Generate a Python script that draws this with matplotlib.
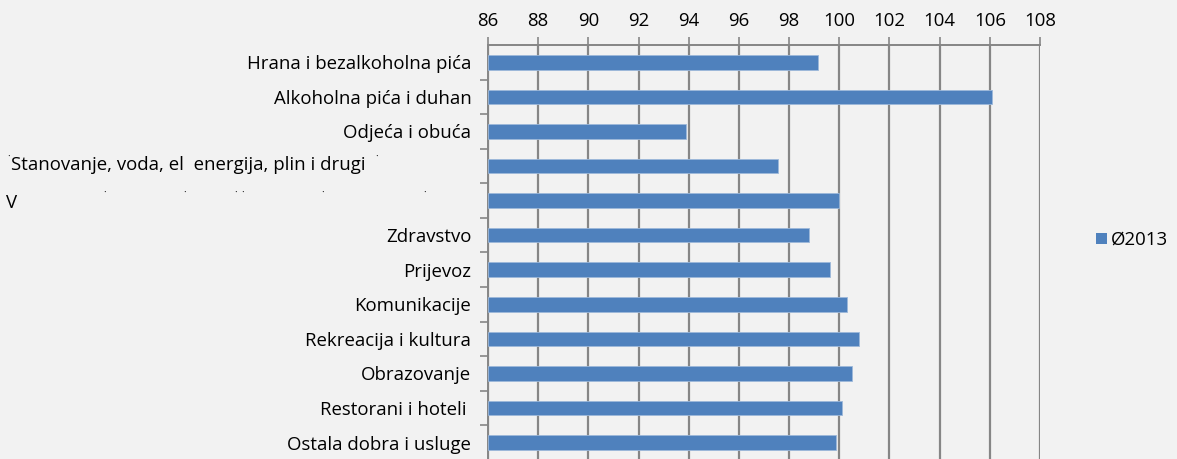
import matplotlib

matplotlib.use("Agg")
import matplotlib.pyplot as plt
from matplotlib.patches import Patch

categories = [
    "Hrana i bezalkoholna pića",
    "Alkoholna pića i duhan",
    "Odjeća i obuća",
    "Stanovanje, voda, el  energija, plin i drugi",
    "V",
    "Zdravstvo",
    "Prijevoz",
    "Komunikacije",
    "Rekreacija i kultura",
    "Obrazovanje",
    "Restorani i hoteli ",
    "Ostala dobra i usluge",
]
values = [99.15, 106.1, 93.9, 97.55, 100.0, 98.8, 99.65, 100.3, 100.8, 100.5, 100.1, 99.85]
series_name = "Ø2013"
x_ticks = list(range(86, 110, 2))

bar_color = "#4F81BD"
grid_color = "#868686"
bg = "#F2F2F2"
fs = 13.4

plt.rcParams["font.family"] = ["Open Sans", "DejaVu Sans"]

fig = plt.figure(figsize=(11.77, 4.59), dpi=100, facecolor=bg)
ax = fig.add_axes([0.4146, -0.002, 0.469, 0.904])
ax.set_facecolor(bg)

# soft inner shadow along the plot edges
W = 1040 - 488
for k in range(8):
    a = 0.05 * (8 - k) / 8
    ax.axvspan(k / W, (k + 1) / W, color="black", alpha=a, lw=0, zorder=0,
               transform=ax.transAxes)
    ax.axvspan(1 - (k + 1) / W, 1 - k / W, color="black", alpha=a, lw=0, zorder=0,
               transform=ax.transAxes)

pos = list(range(len(categories)))
ax.barh(pos, [v - 86 for v in values], left=86, height=0.42, color=bar_color,
        edgecolor="#9DB8DA", linewidth=0.6, zorder=3)

ax.set_xlim(86, 108)
ax.set_ylim(len(categories) - 0.5, -0.5)
ax.xaxis.tick_top()
ax.set_xticks(x_ticks)
ax.set_xticklabels([str(t) for t in x_ticks], fontsize=fs)
ax.tick_params(axis="x", direction="out", length=6, width=1.2, color=grid_color, pad=5)
ax.grid(axis="x", color=grid_color, linewidth=1.6, zorder=1)

# labels, the two garbled ones are drawn by hand
labels = [c if i not in (3, 4) else "" for i, c in enumerate(categories)]
ax.set_yticks(pos)
ax.set_yticklabels(labels, fontsize=fs)
ax.tick_params(axis="y", length=0, pad=12)
ax.set_yticks([p + 0.5 for p in pos[:-1]], minor=True)
ax.tick_params(axis="y", which="minor", direction="out", length=6, width=1.2, color=grid_color)

for side in ("right", "bottom"):
    ax.spines[side].set_visible(False)
for side in ("top", "left"):
    ax.spines[side].set_color(grid_color)
    ax.spines[side].set_linewidth(1.4)

fig.text(11 / 1177, 1 - 165 / 459, categories[3], fontsize=fs, ha="left", va="center")
fig.text(6 / 1177, 1 - 203 / 459, categories[4], fontsize=fs, ha="left", va="center")
for xp, yp in [(9, 157), (377, 157), (105, 193), (185, 193), (236, 193), (243, 193), (323, 193), (425, 193)]:
    fig.text(xp / 1177, 1 - yp / 459, "·", fontsize=7, ha="center", va="center")

fig.legend(handles=[Patch(facecolor=bar_color, label=series_name)], loc="center left",
           bbox_to_anchor=(1096 / 1177, 1 - 240 / 459), frameon=False, fontsize=fs,
           handlelength=0.6, handleheight=0.6, handletextpad=0.2,
           borderpad=0, borderaxespad=0)

fig.savefig("out.png", dpi=100, facecolor=bg)
